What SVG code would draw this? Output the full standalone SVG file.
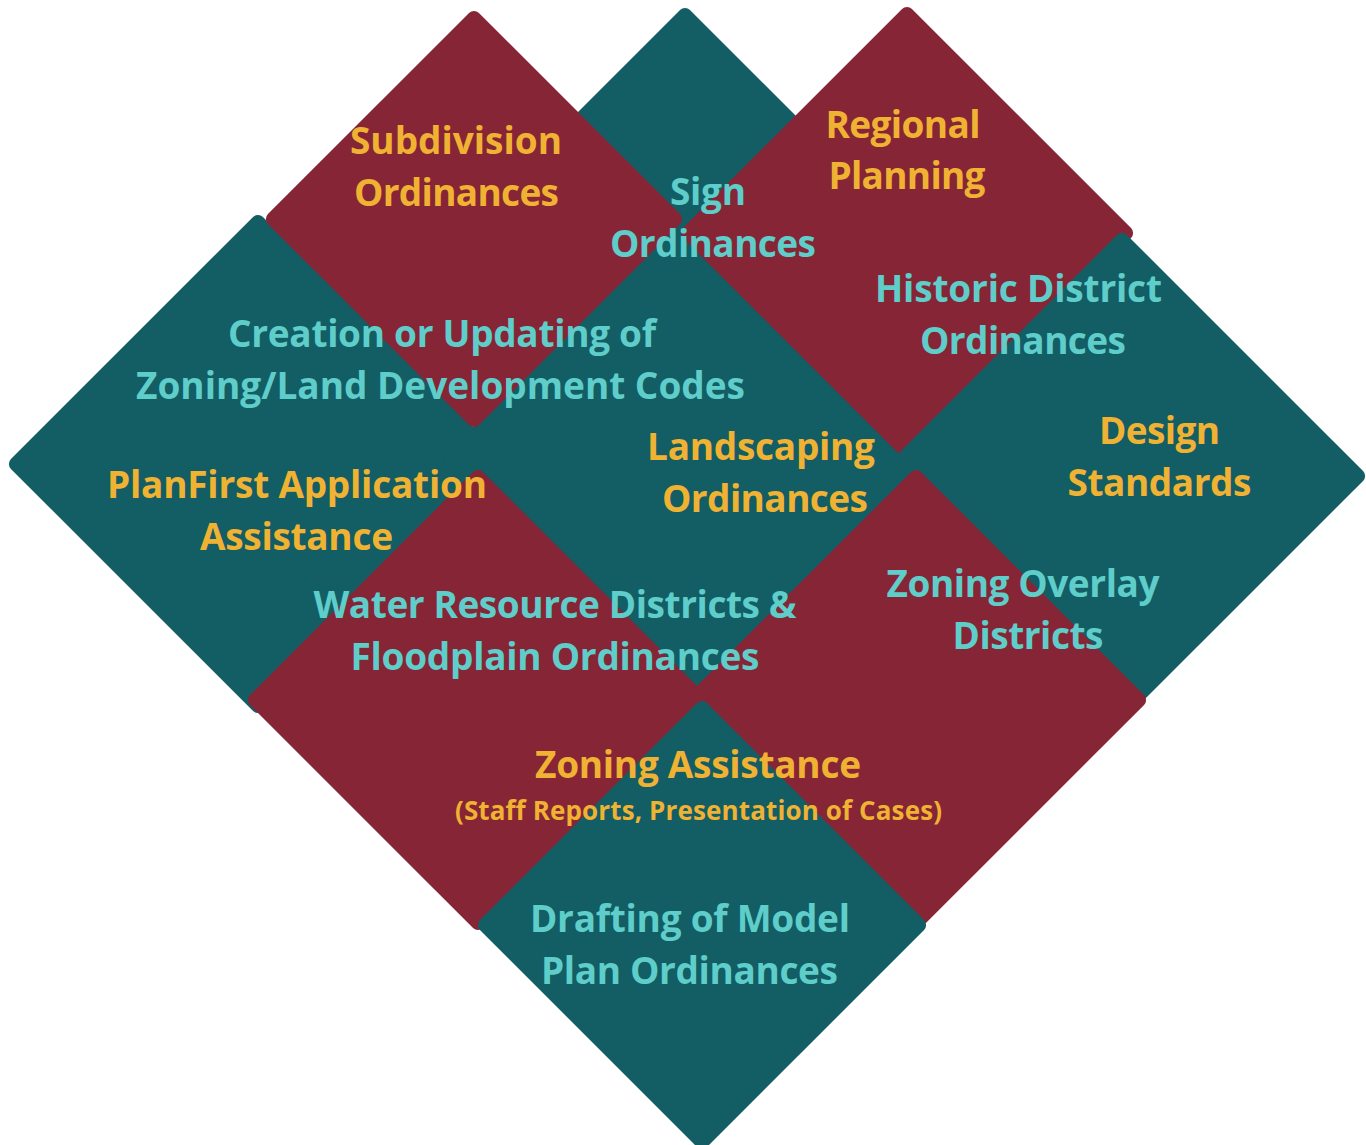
<svg xmlns="http://www.w3.org/2000/svg" width="1366" height="1145" viewBox="0 0 1366 1145">
<style>
.teal{fill:#135D65}
.red{fill:#862535}
text{font-family:"Open Sans","Liberation Sans",sans-serif;font-weight:700;font-size:37px;text-anchor:middle}
.y{fill:#F0B233}
.c{fill:#5FCDC9}
.small{font-size:26px}
</style>
<rect width="1366" height="1145" fill="#ffffff"/>
<g id="shapes">
  <g id="sign-ordinances-shape"><rect class="teal" x="-155.56" y="-155.56" width="311.13" height="311.13" rx="7" transform="translate(685 225) rotate(45)"/></g>
  <g id="zoning-codes-left-shape"><rect class="teal" x="-178.19" y="-178.19" width="356.38" height="356.38" rx="7" transform="translate(258 464) rotate(45)"/></g>
  <g id="landscaping-shape"><rect class="teal" x="-176.78" y="-176.78" width="353.55" height="353.55" rx="7" transform="translate(690 460) rotate(45)"/></g>
  <g id="subdivision-shape"><rect class="red" x="-149.2" y="-149.2" width="298.4" height="298.4" rx="7" transform="translate(474 219) rotate(45)"/></g>
  <g id="regional-shape"><rect class="red" x="-161.93" y="-161.93" width="323.85" height="323.85" rx="7" transform="translate(907 233) rotate(45)"/></g>
  <g id="design-standards-shape"><rect class="teal" x="-173.95" y="-173.95" width="347.9" height="347.9" rx="7" transform="translate(1122 476) rotate(45)"/></g>
  <g id="water-resource-shape"><rect class="red" x="-164.76" y="-164.76" width="329.51" height="329.51" rx="7" transform="translate(478 700) rotate(45)"/></g>
  <g id="zoning-overlay-shape"><rect class="red" x="-164.76" y="-164.76" width="329.51" height="329.51" rx="7" transform="translate(916 700) rotate(45)"/></g>
  <g id="drafting-shape"><rect class="teal" x="-160.51" y="-160.51" width="321.03" height="321.03" rx="7" transform="translate(702 925) rotate(45)"/></g>
</g>
<g id="connectors"></g>
<g id="labels">
  <g id="subdivision-label" class="y">
    <text x="456" y="154" textLength="212">Subdivision</text>
    <text x="456.5" y="206" textLength="205">Ordinances</text>
  </g>
  <g id="sign-label" class="c">
    <text x="708" y="205" textLength="76">Sign</text>
    <text x="713" y="257" textLength="206">Ordinances</text>
  </g>
  <g id="regional-label" class="y">
    <text x="903" y="138" textLength="155">Regional</text>
    <text x="907" y="189" textLength="157">Planning</text>
  </g>
  <g id="historic-label" class="c">
    <text x="1018.5" y="302" textLength="287">Historic District</text>
    <text x="1023" y="354" textLength="206">Ordinances</text>
  </g>
  <g id="creation-label" class="c">
    <text x="442" y="347" textLength="428">Creation or Updating of</text>
    <text x="440.5" y="399" textLength="609">Zoning/Land Development Codes</text>
  </g>
  <g id="design-label" class="y">
    <text x="1159.5" y="444" textLength="121">Design</text>
    <text x="1159.5" y="496" textLength="184">Standards</text>
  </g>
  <g id="landscaping-label" class="y">
    <text x="761" y="460" textLength="228">Landscaping</text>
    <text x="765" y="512" textLength="206">Ordinances</text>
  </g>
  <g id="planfirst-label" class="y">
    <text x="297" y="498" textLength="380">PlanFirst Application</text>
    <text x="296.5" y="550" textLength="193">Assistance</text>
  </g>
  <g id="water-label" class="c">
    <text x="555" y="618" textLength="483">Water Resource Districts &amp;</text>
    <text x="555" y="670" textLength="409">Floodplain Ordinances</text>
  </g>
  <g id="zoning-overlay-label" class="c">
    <text x="1023" y="597" textLength="273">Zoning Overlay</text>
    <text x="1028" y="649" textLength="151">Districts</text>
  </g>
  <g id="zoning-assistance-label" class="y">
    <text x="698" y="778" textLength="326">Zoning Assistance</text>
    <text class="small" x="698.5" y="820" textLength="487">(Staff Reports, Presentation of Cases)</text>
  </g>
  <g id="drafting-label" class="c">
    <text x="690" y="932" textLength="320">Drafting of Model</text>
    <text x="689.5" y="984" textLength="297">Plan Ordinances</text>
  </g>
</g>
</svg>
